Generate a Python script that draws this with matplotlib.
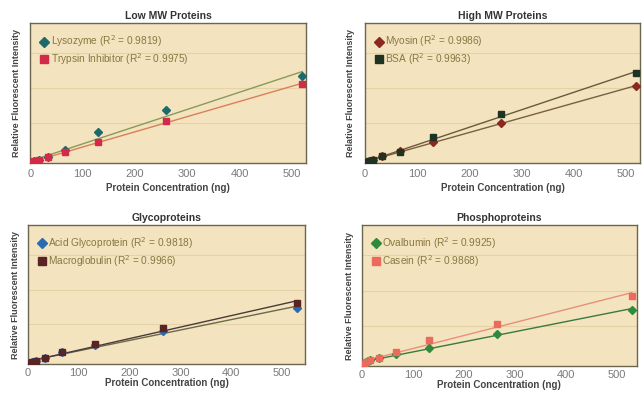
import numpy as np
import matplotlib
matplotlib.use("Agg")
import matplotlib.pyplot as plt

plt.rcParams['font.family'] = ['Liberation Sans Narrow', 'Liberation Sans', 'DejaVu Sans']

# concentrations (ng)
conc_top = [2, 4, 8, 16, 33, 66, 130, 260, 520]
conc_bot = [4, 8, 16, 33, 66, 132, 265, 530]

# relative fluorescent intensity (arbitrary units)
lysozyme = [10, 30, 60, 100, 170, 370, 890, 1510, 2490]
trypsin = [10, 30, 60, 100, 170, 310, 600, 1200, 2260]
myosin = [15, 30, 60, 90, 200, 360, 600, 1140, 2200]
bsa = [15, 30, 60, 90, 200, 330, 740, 1400, 2570]
acid_gly = [30, 60, 90, 170, 340, 560, 960, 1600]
macroglob = [30, 60, 90, 170, 340, 580, 1030, 1760]
ovalbumin = [50, 110, 170, 230, 340, 510, 910, 1600]
casein = [50, 110, 170, 230, 400, 740, 1200, 2000]

panels = [
    dict(title='Low MW Proteins', rect=[0.047, 0.586, 0.428, 0.355], xmax=527, x=conc_top,
         pad=4, lpad=3,
         series=[('Lysozyme (R$^2$ = 0.9819)', lysozyme, '#1d6a6a', '#8a9a58', 'D'),
                 ('Trypsin Inhibitor (R$^2$ = 0.9975)', trypsin, '#d42a4a', '#d8805a', 's')]),
    dict(title='High MW Proteins', rect=[0.567, 0.586, 0.427, 0.355], xmax=528, x=conc_top,
         pad=4, lpad=3,
         series=[('Myosin (R$^2$ = 0.9986)', myosin, '#8a2a1e', '#7a6040', 'D'),
                 ('BSA (R$^2$ = 0.9963)', bsa, '#1e3322', '#6a5a3a', 's')]),
    dict(title='Glycoproteins', rect=[0.0435, 0.076, 0.430, 0.353], xmax=545, x=conc_bot,
         pad=3, lpad=0,
         series=[('Acid Glycoprotein (R$^2$ = 0.9818)', acid_gly, '#2b6cb0', '#6a6a4a', 'D'),
                 ('Macroglobulin (R$^2$ = 0.9966)', macroglob, '#5a2424', '#4a3a3a', 's')]),
    dict(title='Phosphoproteins', rect=[0.562, 0.071, 0.427, 0.358], xmax=540, x=conc_bot,
         pad=3, lpad=0,
         series=[('Ovalbumin (R$^2$ = 0.9925)', ovalbumin, '#2e8b3e', '#3a7a3a', 'D'),
                 ('Casein (R$^2$ = 0.9868)', casein, '#ec6a5c', '#e8907a', 's')]),
]

fig = plt.figure(figsize=(6.44, 3.94), dpi=100)

for p in panels:
    ax = fig.add_axes(p['rect'])
    ax.set_facecolor('#f3e3bf')
    x = np.array(p['x'])
    for label, vals, mcol, lcol, mk in p['series']:
        y = np.array(vals)
        k, b = np.polyfit(x, y, 1)
        xs = np.array([x.min(), x.max()])
        ax.plot(xs, k * xs + b, color=lcol, lw=1.0, zorder=2)
        ax.plot(x, y, linestyle='none', marker=mk, ms=4.3, color=mcol,
                markeredgecolor=mcol, label=label, zorder=3)

    ax.set_xlim(0, p['xmax'])
    ax.set_ylim(0, 4000)
    ax.set_xticks([0, 100, 200, 300, 400, 500])
    ax.set_yticks(np.arange(1140, 4000, 1000))
    ax.set_yticklabels([])
    ax.grid(axis='y', color='#e4d1a6', lw=0.8)
    ax.set_axisbelow(True)
    ax.tick_params(length=0, labelsize=8, labelcolor='#7a7a7a', pad=p['pad'])
    for s in ax.spines.values():
        s.set_color('#6b6650')
        s.set_linewidth(1.0)

    ax.set_title(p['title'], fontsize=7.5, fontweight='bold', color='#333333', pad=3)
    ax.set_xlabel('Protein Concentration (ng)', fontsize=7, fontweight='bold',
                  color='#444444', labelpad=p['lpad'])
    ax.set_ylabel('Relative Fluorescent Intensity', fontsize=6.5, fontweight='bold',
                  color='#444444', labelpad=3)

    leg = ax.legend(loc='upper left', fontsize=7.3, frameon=False, handletextpad=0.2,
                    handlelength=0.8, borderaxespad=0.6, labelspacing=0.2,
                    markerscale=1.2)
    for t in leg.get_texts():
        t.set_color('#8a7840')

fig.savefig('out.png', dpi=100, facecolor='white')
